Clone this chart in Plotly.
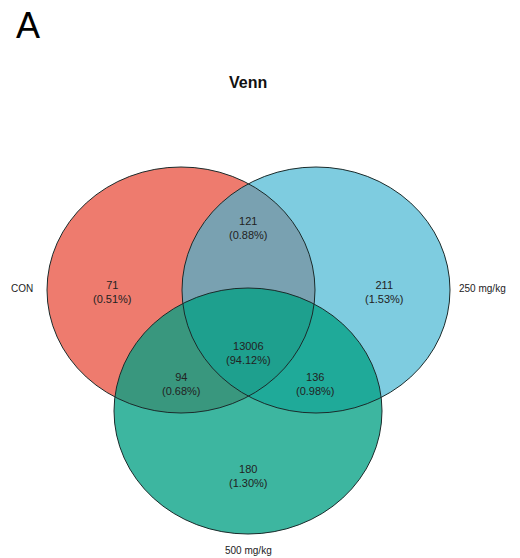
import plotly.graph_objects as go

# Sets and their region counts
set_names = ["CON", "250 mg/kg", "500 mg/kg"]
region_keys = ["CON only", "CON & 250", "250 only", "all", "CON & 500", "250 & 500", "500 only"]
region_counts = [71, 121, 211, 13006, 94, 136, 180]

total = sum(region_counts)
region_pct = [c / total * 100 for c in region_counts]

W, H = 520, 558
RX, RY = 134, 123  # circle radii in pixels (x, y)

# circle centres (pixel layout)
centres = {
    "CON": (181, 290),
    "250 mg/kg": (316, 290),
    "500 mg/kg": (248, 411),
}
fills = {
    "CON": ("#EE7B6E", 1.0),
    "250 mg/kg": ("#41B4D1", 0.68),
    "500 mg/kg": ("#03A084", 0.77),
}

# label positions for each region (pixel layout)
region_pos = [(112, 292), (248, 228), (384, 292), (248, 353), (181, 384), (315, 384), (248, 476)]
set_label_pos = {
    "CON": (22, 288, "center"),
    "250 mg/kg": (482, 288, "center"),
    "500 mg/kg": (248, 550, "center"),
}

fig = go.Figure()

shapes = []
for name in set_names:
    cx, cy = centres[name]
    col, op = fills[name]
    shapes.append(dict(type="circle", xref="x", yref="y",
                       x0=cx - RX, x1=cx + RX, y0=cy - RY, y1=cy + RY,
                       fillcolor=col, opacity=op, line=dict(width=0), layer="below"))
for name in set_names:
    cx, cy = centres[name]
    shapes.append(dict(type="circle", xref="x", yref="y",
                       x0=cx - RX, x1=cx + RX, y0=cy - RY, y1=cy + RY,
                       fillcolor="rgba(0,0,0,0)", line=dict(color="#1b2b2b", width=1), layer="below"))

annotations = []
for (x, y), n, p in zip(region_pos, region_counts, region_pct):
    annotations.append(dict(x=x, y=y, xref="x", yref="y", showarrow=False,
                            text=f"{n}<br>({p:.2f}%)",
                            font=dict(family="Liberation Sans, Arial", size=11, color="#222222"),
                            align="center"))
for name in set_names:
    x, y, anc = set_label_pos[name]
    annotations.append(dict(x=x, y=y, xref="x", yref="y", showarrow=False, text=name,
                            xanchor=anc,
                            font=dict(family="Liberation Sans, Arial", size=10, color="#222222")))

annotations.append(dict(x=248, y=82, xref="x", yref="y", showarrow=False, text="<b>Venn</b>",
                        font=dict(family="Liberation Sans, Arial", size=16, color="#111111")))
annotations.append(dict(x=14, y=25, xref="x", yref="y", showarrow=False, text="A",
                        xanchor="left",
                        font=dict(family="Liberation Sans, Arial", size=36, color="#000000")))

fig.update_layout(
    width=W, height=H,
    margin=dict(l=0, r=0, t=0, b=0),
    paper_bgcolor="white", plot_bgcolor="white",
    xaxis=dict(range=[0, W], visible=False, fixedrange=True),
    yaxis=dict(range=[H, 0], visible=False, fixedrange=True),
    shapes=shapes, annotations=annotations,
    showlegend=False,
)

fig.write_html("out.html")
